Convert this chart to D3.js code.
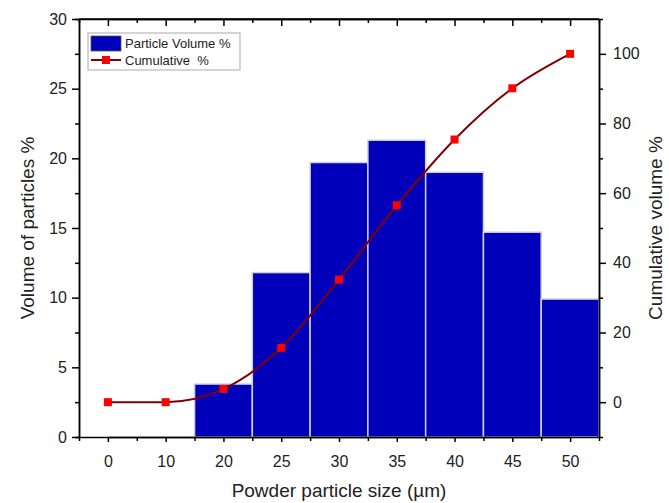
<!DOCTYPE html>
<html>
<head>
<meta charset="utf-8">
<script src="https://cdn.jsdelivr.net/npm/d3@7"></script>
<style>
  body { margin: 0; background: #fff; }
  svg { font-family: "Liberation Sans", Arial, sans-serif; }
</style>
</head>
<body>
<div id="chart"></div>
<script>
const width = 669, height = 503
const left = 79, right = 599, top_ = 19, bottom = 437

// chart data
const sizes = ["0", "10", "20", "25", "30", "35", "40", "45", "50"]
const volume = [0, 0, 3.8, 11.8, 19.7, 21.3, 19.0, 14.7, 9.9]
const cumulative = [0, 0, 3.8, 15.6, 35.2, 56.5, 75.4, 90.1, 100]
const yTicks = [0, 5, 10, 15, 20, 25, 30]
const y2Ticks = [0, 20, 40, 60, 80, 100]

const bar_color = "#0000BB", line_color = "#800000", marker_color = "#FF0000"

const svg = d3.select("#chart").append("svg")
    .attr("width", width)
    .attr("height", height)

const x = d3.scaleBand().domain(sizes).range([left, right]).padding(0)
const bw = x.bandwidth()
const cx = d => x(d) + bw / 2
const y = d3.scaleLinear().domain([0, 30]).range([bottom, top_])
const y2 = d3.scaleLinear().domain([-10, 110]).range([bottom, top_])

// bars
const rows = sizes.map((s, i) => ({size: s, v: volume[i], c: cumulative[i]}))

svg.append("g")
    .selectAll("rect")
    .data(rows.filter(d => d.v > 0))
    .join("rect")
    .attr("x", d => x(d.size))
    .attr("y", d => y(d.v))
    .attr("width", bw)
    .attr("height", d => y(0) - y(d.v))
    .attr("fill", bar_color)
    .attr("stroke", "#d0d0d0")
    .attr("stroke-width", 1.5)

// cumulative line
const line = d3.line()
    .x(d => cx(d.size))
    .y(d => y2(d.c))
    .curve(d3.curveMonotoneX)

svg.append("path")
    .datum(rows)
    .attr("d", line)
    .attr("fill", "none")
    .attr("stroke", line_color)
    .attr("stroke-width", 2)

svg.append("g")
    .selectAll("rect")
    .data(rows)
    .join("rect")
    .attr("x", d => cx(d.size) - 4)
    .attr("y", d => y2(d.c) - 4)
    .attr("width", 8)
    .attr("height", 8)
    .attr("fill", marker_color)

// axes
function style(g) {
    g.selectAll("path, line").attr("stroke", "#000").attr("stroke-width", 1.5)
    g.selectAll("text").attr("font-size", "16px").attr("fill", "#222")
}

// left
const minorY = d3.range(2.5, 30, 5)
svg.append("g")
    .attr("transform", `translate(${left},0)`)
    .call(d3.axisLeft(y).tickValues(minorY).tickSize(4).tickFormat(""))
    .call(style)
svg.append("g")
    .attr("transform", `translate(${left},0)`)
    .call(d3.axisLeft(y).tickValues(yTicks).tickSize(7).tickSizeOuter(0).tickPadding(5))
    .call(style)

// right
const minorY2 = d3.range(10, 100, 20)
svg.append("g")
    .attr("transform", `translate(${right},0)`)
    .call(d3.axisRight(y2).tickValues(minorY2).tickSize(4).tickFormat(""))
    .call(style)
svg.append("g")
    .attr("transform", `translate(${right},0)`)
    .call(d3.axisRight(y2).tickValues(y2Ticks).tickSize(7).tickSizeOuter(0).tickPadding(7))
    .call(style)

// bottom: labels at centers, minor ticks at band edges
const edges = sizes.map(s => x(s)).concat([right])
const edgeScale = d3.scaleLinear().domain([left, right]).range([left, right])

svg.append("g")
    .attr("transform", `translate(0,${bottom})`)
    .call(d3.axisBottom(edgeScale).tickValues(edges).tickSize(4).tickSizeOuter(0).tickFormat(""))
    .call(style)
const xc = d3.scalePoint().domain(sizes).range([left + bw / 2, right - bw / 2])
svg.append("g")
    .attr("transform", `translate(0,${bottom})`)
    .call(d3.axisBottom(xc).tickSize(5).tickSizeOuter(0).tickPadding(14))
    .call(style)

// top: inward ticks, no labels
svg.append("g")
    .attr("transform", `translate(0,${top_})`)
    .call(d3.axisBottom(edgeScale).tickValues(edges).tickSize(4).tickSizeOuter(0).tickFormat(""))
    .call(style)
svg.append("g")
    .attr("transform", `translate(0,${top_})`)
    .call(d3.axisBottom(xc).tickSize(7).tickSizeOuter(0).tickFormat(""))
    .call(style)
svg.append("line")
    .attr("x1", left).attr("x2", right)
    .attr("y1", top_).attr("y2", top_)
    .attr("stroke", "#000").attr("stroke-width", 1.5)

// titles
svg.append("text")
    .attr("x", (left + right) / 2)
    .attr("y", 497)
    .attr("text-anchor", "middle")
    .attr("font-size", "19px")
    .attr("fill", "#222")
    .text("Powder particle size (µm)")

svg.append("text")
    .attr("transform", `translate(34,${(top_ + bottom) / 2}) rotate(-90)`)
    .attr("text-anchor", "middle")
    .attr("font-size", "19px")
    .attr("fill", "#222")
    .text("Volume of particles %")

svg.append("text")
    .attr("transform", `translate(662,${(top_ + bottom) / 2}) rotate(-90)`)
    .attr("text-anchor", "middle")
    .attr("font-size", "19px")
    .attr("fill", "#222")
    .text("Cumulative volume %")

// legend
const lg = svg.append("g").attr("transform", "translate(88,33)")
lg.append("rect")
    .attr("width", 152).attr("height", 37)
    .attr("fill", "#fff").attr("stroke", "#aaa").attr("stroke-width", 1)
lg.append("rect")
    .attr("x", 3).attr("y", 3).attr("width", 30).attr("height", 15)
    .attr("fill", bar_color).attr("stroke", "#555").attr("stroke-width", 0.8)
lg.append("text")
    .attr("x", 37).attr("y", 15)
    .attr("font-size", "13px").attr("fill", "#222")
    .text("Particle Volume %")
lg.append("line")
    .attr("x1", 3).attr("x2", 33).attr("y1", 27).attr("y2", 27)
    .attr("stroke", line_color).attr("stroke-width", 2)
lg.append("rect")
    .attr("x", 14).attr("y", 23).attr("width", 8).attr("height", 8)
    .attr("fill", marker_color)
lg.append("text")
    .attr("x", 37).attr("y", 32)
    .attr("font-size", "13px").attr("fill", "#222")
    .style("white-space", "pre")
    .text("Cumulative  %")
</script>
</body>
</html>
